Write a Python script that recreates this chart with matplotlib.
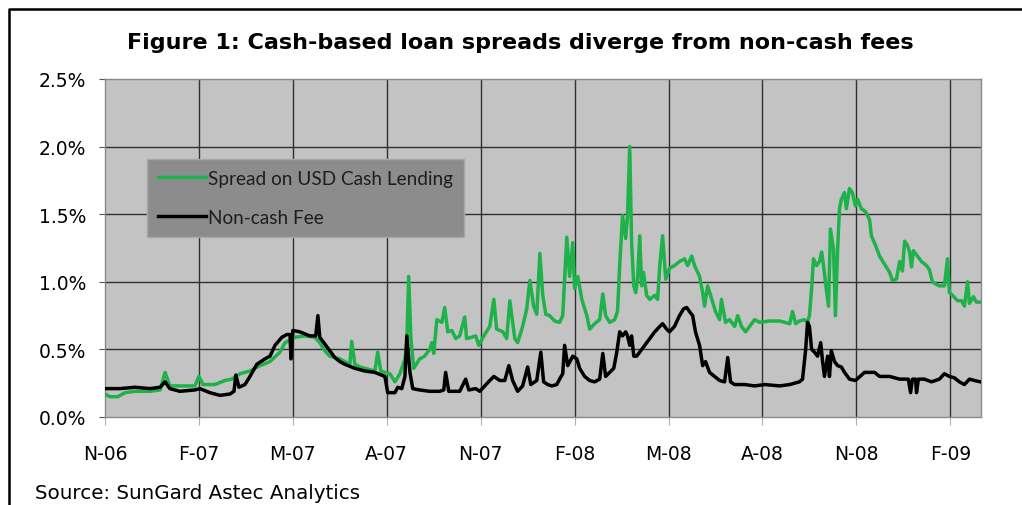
import numpy as np
import matplotlib

matplotlib.use("Agg")
import matplotlib.pyplot as plt
from matplotlib.lines import Line2D
from matplotlib.ticker import FuncFormatter

# months since Nov-2006
cash_month = [
    0.00, 0.16, 0.41, 0.64, 0.96, 1.44, 1.76, 1.92, 2.07, 2.55, 2.87, 3.00, 3.13,
    3.51, 3.83, 4.05, 4.31, 4.63, 4.95, 5.27, 5.59, 5.75, 6.07, 6.38, 6.70, 6.86,
    7.02, 7.18, 7.50, 7.82, 7.88, 7.98, 8.14, 8.62, 8.71, 8.81, 8.94, 9.10, 9.26,
    9.42, 9.58, 9.64, 9.70, 9.77, 9.86, 10.05, 10.21, 10.37, 10.44, 10.50, 10.60,
    10.76, 10.85, 10.95, 11.08, 11.20, 11.33, 11.49, 11.55, 11.71, 11.84, 11.94,
    12.10, 12.29, 12.42, 12.51, 12.71, 12.83, 12.93, 13.09, 13.18, 13.34, 13.47,
    13.57, 13.69, 13.79, 13.89, 13.98, 14.08, 14.20, 14.36, 14.52, 14.62, 14.75,
    14.84, 14.94, 15.00, 15.10, 15.23, 15.39, 15.48, 15.64, 15.80, 15.90, 15.99,
    16.12, 16.28, 16.37, 16.44, 16.53, 16.63, 16.69, 16.76, 16.82, 16.89, 16.95,
    17.01, 17.08, 17.14, 17.20, 17.30, 17.40, 17.56, 17.65, 17.72, 17.81, 17.91,
    18.03, 18.19, 18.35, 18.51, 18.61, 18.74, 18.83, 18.99, 19.09, 19.15, 19.25,
    19.38, 19.50, 19.63, 19.69, 19.82, 19.95, 20.11, 20.21, 20.33, 20.46, 20.59,
    20.75, 20.91, 21.23, 21.55, 21.87, 21.96, 22.06, 22.18, 22.34, 22.44, 22.50,
    22.57, 22.63, 22.73, 22.82, 22.89, 22.95, 23.01, 23.11, 23.17, 23.27, 23.33,
    23.40, 23.46, 23.52, 23.62, 23.68, 23.78, 23.87, 23.97, 24.04, 24.16, 24.29,
    24.42, 24.48, 24.61, 24.74, 24.90, 25.06, 25.15, 25.28, 25.38, 25.47, 25.54,
    25.63, 25.70, 25.76, 25.82, 25.95, 26.08, 26.24, 26.33, 26.43, 26.56, 26.65,
    26.81, 26.91, 26.97, 27.07, 27.23, 27.36, 27.45, 27.55, 27.61, 27.74, 27.83,
    27.96,
]
cash_spread = [
    0.17, 0.15, 0.15, 0.18, 0.19, 0.19, 0.20, 0.33, 0.23, 0.23, 0.23, 0.30, 0.24,
    0.24, 0.27, 0.28, 0.32, 0.34, 0.38, 0.41, 0.48, 0.55, 0.59, 0.60, 0.59, 0.55,
    0.49, 0.45, 0.43, 0.39, 0.56, 0.39, 0.37, 0.34, 0.48, 0.34, 0.33, 0.32, 0.26,
    0.32, 0.43, 0.55, 1.04, 0.58, 0.36, 0.43, 0.45, 0.50, 0.55, 0.47, 0.72,
    0.70, 0.81, 0.63, 0.64, 0.58, 0.60, 0.74, 0.58, 0.59, 0.60, 0.53,
    0.60, 0.67, 0.87, 0.65, 0.63, 0.58, 0.86, 0.58, 0.55, 0.67, 0.80,
    1.01, 0.82, 0.76, 1.21, 0.90, 0.76, 0.75, 0.71, 0.70, 0.75, 1.33,
    1.04, 1.29, 0.95, 1.04, 0.87, 0.75, 0.65, 0.69, 0.72, 0.91, 0.75,
    0.70, 0.72, 0.78, 1.12, 1.49, 1.32, 1.49, 2.00, 1.29, 0.97, 0.92,
    1.02, 1.34, 0.97, 1.07, 0.90, 0.87, 0.90, 0.87, 1.12, 1.34, 1.02,
    1.10, 1.12, 1.15, 1.17, 1.12, 1.19, 1.12, 1.04, 0.92, 0.82, 0.97,
    0.87, 0.78, 0.72, 0.87, 0.70, 0.72, 0.67, 0.75, 0.67, 0.63, 0.67,
    0.72, 0.70, 0.71, 0.71, 0.69, 0.78, 0.69, 0.71, 0.72, 0.70, 0.75,
    0.95, 1.17, 1.12, 1.15, 1.22, 1.12, 1.00, 0.82, 1.39, 1.24, 0.75,
    1.24, 1.54, 1.61, 1.66, 1.54, 1.69, 1.66, 1.56, 1.61, 1.54, 1.52,
    1.46, 1.34, 1.27, 1.19, 1.13, 1.07, 1.01, 1.02, 1.15, 1.08, 1.30,
    1.27, 1.22, 1.11, 1.23, 1.19, 1.15, 1.12, 1.09, 1.00, 0.98, 0.97,
    0.97, 1.17, 0.92, 0.90, 0.86, 0.86, 0.82, 1.00, 0.84, 0.89, 0.85,
    0.85,
]

fee_month = [
    0.00, 0.48, 0.96, 1.44, 1.76, 1.92, 2.07, 2.39, 2.87, 3.03, 3.35, 3.67, 3.99,
    4.12, 4.18, 4.28, 4.47, 4.63, 4.85, 5.11, 5.27, 5.43, 5.65, 5.81, 5.91, 5.94,
    6.00, 6.22, 6.54, 6.73, 6.80, 6.86, 7.02, 7.18, 7.34, 7.50, 7.66, 7.98, 8.30,
    8.62, 8.94, 9.03, 9.26, 9.35, 9.48, 9.58, 9.64, 9.74, 9.83, 10.05, 10.37,
    10.69, 10.82, 10.88, 10.98, 11.33, 11.52, 11.62, 11.84, 11.97, 12.13, 12.29,
    12.42, 12.61, 12.77, 12.90, 13.02, 13.18, 13.34, 13.50, 13.60, 13.79, 13.92,
    14.01, 14.14, 14.27, 14.43, 14.52, 14.62, 14.68, 14.78, 14.94, 15.07, 15.16,
    15.32, 15.48, 15.64, 15.80, 15.90, 15.99, 16.12, 16.25, 16.34, 16.44, 16.53,
    16.63, 16.69, 16.76, 16.82, 16.89, 16.98, 17.08, 17.24, 17.40, 17.56, 17.72,
    17.81, 17.94, 18.03, 18.19, 18.35, 18.48, 18.58, 18.67, 18.77, 18.86, 18.99,
    19.09, 19.18, 19.31, 19.47, 19.63, 19.79, 19.89, 19.98, 20.11, 20.43, 20.75,
    21.07, 21.55, 21.87, 22.18, 22.28, 22.38, 22.44, 22.50, 22.57, 22.66, 22.76,
    22.86, 22.92, 22.98, 23.08, 23.14, 23.20, 23.30, 23.40, 23.52, 23.62, 23.78,
    23.97, 24.26, 24.58, 24.74, 25.06, 25.38, 25.66, 25.73, 25.79, 25.89, 25.92,
    25.98, 26.17, 26.40, 26.65, 26.81, 26.97, 27.13, 27.29, 27.45, 27.61, 27.77,
    27.96,
]
fee_rate = [
    0.21, 0.21, 0.22, 0.21, 0.22, 0.26, 0.21, 0.19, 0.20, 0.21, 0.18, 0.16, 0.17,
    0.19, 0.31, 0.22, 0.24, 0.30, 0.39, 0.43, 0.45, 0.53, 0.59, 0.61, 0.61, 0.43,
    0.64, 0.63, 0.60, 0.60, 0.75, 0.59, 0.54, 0.49, 0.44, 0.41, 0.39, 0.36, 0.34,
    0.33, 0.30, 0.18, 0.18, 0.22, 0.21, 0.30, 0.60, 0.33, 0.21, 0.20, 0.19,
    0.19, 0.20, 0.33, 0.19, 0.19, 0.28, 0.20, 0.21, 0.19, 0.23, 0.27,
    0.30, 0.27, 0.27, 0.38, 0.27, 0.19, 0.23, 0.37, 0.24, 0.27, 0.48,
    0.26, 0.24, 0.23, 0.24, 0.28, 0.32, 0.53, 0.38, 0.45, 0.43, 0.36,
    0.30, 0.27, 0.26, 0.28, 0.47, 0.30, 0.33, 0.36, 0.47, 0.63, 0.60,
    0.63, 0.60, 0.53, 0.60, 0.45, 0.45, 0.48, 0.53, 0.58, 0.63, 0.67,
    0.69, 0.65, 0.63, 0.67, 0.75, 0.80, 0.81, 0.78, 0.75, 0.63, 0.53,
    0.38, 0.41, 0.33, 0.30, 0.27, 0.26, 0.44, 0.26, 0.24, 0.24, 0.23,
    0.24, 0.23, 0.24, 0.26, 0.28, 0.50, 0.70, 0.67, 0.50, 0.48, 0.45,
    0.55, 0.41, 0.30, 0.45, 0.30, 0.49, 0.41, 0.38, 0.37, 0.33, 0.28,
    0.27, 0.33, 0.33, 0.30, 0.30, 0.28, 0.28, 0.18, 0.28, 0.28, 0.18,
    0.28, 0.28, 0.26, 0.28, 0.32, 0.30, 0.29, 0.26, 0.24, 0.28, 0.27,
    0.26,
]

tick_months = [0, 3, 6, 9, 12, 15, 18, 21, 24, 27]
tick_labels = ["N-06", "F-07", "M-07", "A-07", "N-07", "F-08", "M-08", "A-08",
               "N-08", "F-09"]
y_ticks = [0.0, 0.5, 1.0, 1.5, 2.0, 2.5]

W, H = 1022, 506
fig = plt.figure(figsize=(W / 100, H / 100), dpi=100)
ax = fig.add_axes([105 / W, 1 - 418 / H, (981 - 105) / W, (418 - 80) / H])
ax.set_facecolor("#c3c3c3")

ax.plot(cash_month, cash_spread, color="#1fb24a", lw=2.5,
        label="Spread on USD Cash Lending", zorder=3)
ax.plot(fee_month, fee_rate, color="black", lw=2.5, label="Non-cash Fee",
        zorder=4)

ax.set_xlim(0, 27.98)
ax.set_ylim(0, 2.5)
ax.set_xticks(tick_months)
ax.set_xticklabels(tick_labels)
ax.set_yticks(y_ticks)
ax.yaxis.set_major_formatter(FuncFormatter(lambda v, p: f"{v:.1f}%"))

# gridlines
for m in tick_months[1:]:
    ax.axvline(m, color="#303030", lw=1.0, zorder=1)
for v in y_ticks[1:-1]:
    ax.axhline(v, color="#303030", lw=1.0, zorder=1)

for s in ax.spines.values():
    s.set_color("#8a8a8a")
    s.set_linewidth(1.0)

ax.tick_params(axis="y", direction="out", length=4.5, width=0.8,
               color="#555555", pad=9, labelsize=13.5)
ax.tick_params(axis="x", direction="out", length=5.5, width=0.8,
               color="#b0b0b0", pad=14, labelsize=13.5)
for t in ax.get_xticklabels() + ax.get_yticklabels():
    t.set_family("DejaVu Sans")

leg = ax.legend(loc="upper left", bbox_to_anchor=(147 / W, 1 - 160 / H),
                bbox_transform=fig.transFigure, borderaxespad=0,
                frameon=True, fancybox=False, facecolor="#8c8c8c",
                edgecolor="#a8a8a8", framealpha=1.0,
                prop={"family": "Lato", "size": 13.7},
                handlelength=2.5, handletextpad=0.15, labelspacing=1.16,
                borderpad=0.58)
for t in leg.get_texts():
    t.set_color("#1e1e1e")

fig.text(520 / W, 1 - 43 / H,
         "Figure 1: Cash-based loan spreads diverge from non-cash fees",
         ha="center", va="center", fontsize=16, fontweight="bold",
         family="DejaVu Sans")
fig.text(35 / W, 1 - 494 / H, "Source: SunGard Astec Analytics",
         ha="left", va="center", fontsize=14.3, family="DejaVu Sans")

# outer frame (left and top edges visible)
fig.add_artist(Line2D([9 / W, 9 / W, 1.0], [0.0, 1 - 10 / H, 1 - 10 / H],
                      transform=fig.transFigure, color="black", lw=1.8))

fig.savefig("out.png", dpi=100)
